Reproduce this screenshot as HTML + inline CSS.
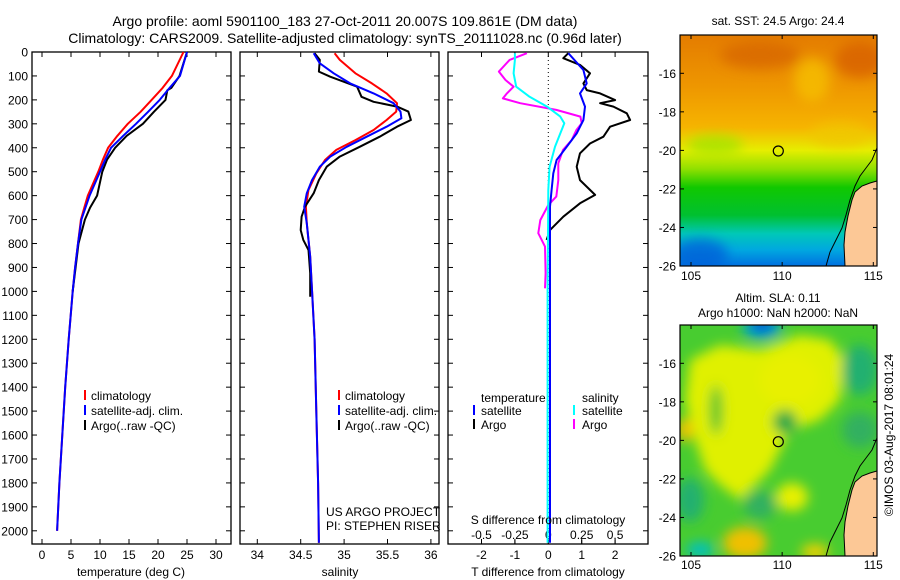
<!DOCTYPE html>
<html><head><meta charset="utf-8">
<style>
html,body{margin:0;padding:0;background:#fff;}
svg{display:block;font-family:"Liberation Sans",sans-serif;}
text{fill:#000;}
</style></head>
<body>
<svg id="fig" width="900" height="580" viewBox="0 0 900 580" xmlns="http://www.w3.org/2000/svg">
<defs>
<linearGradient id="sstgrad" x1="0" y1="0" x2="0" y2="1">
<stop offset="0" stop-color="#e47c00"/>
<stop offset="0.22" stop-color="#ee9600"/>
<stop offset="0.40" stop-color="#f6b400"/>
<stop offset="0.50" stop-color="#e6ee00"/>
<stop offset="0.58" stop-color="#90e000"/>
<stop offset="0.66" stop-color="#10c800"/>
<stop offset="0.78" stop-color="#00c030"/>
<stop offset="0.86" stop-color="#00c8b8"/>
<stop offset="0.93" stop-color="#00a8e0"/>
<stop offset="1" stop-color="#0070e0"/>
</linearGradient>
<clipPath id="clip1"><rect x="680" y="35" width="197" height="231"/></clipPath>
<clipPath id="clip2"><rect x="680" y="325" width="197" height="231"/></clipPath>
<filter id="blur6" x="-50%" y="-50%" width="200%" height="200%"><feGaussianBlur stdDeviation="6"/></filter>
</defs>

<text x="345" y="26" font-size="14" text-anchor="middle">Argo profile: aoml 5901100_183 27-Oct-2011 20.007S 109.861E (DM data)</text>
<text x="345" y="43" font-size="14" text-anchor="middle">Climatology: CARS2009. Satellite-adjusted climatology: synTS_20111028.nc (0.96d later)</text>

<g id="axes"></g>
<g id="series"></g>

<!-- legends -->
<g font-size="12">
<rect x="84" y="390" width="2" height="10" fill="#f00"/><text x="91" y="400">climatology</text>
<rect x="84" y="405" width="2" height="10" fill="#00f"/><text x="91" y="415">satellite-adj. clim.</text>
<rect x="84" y="420" width="2" height="10" fill="#000"/><text x="91" y="430">Argo(..raw -QC)</text>
</g>
<g font-size="12">
<rect x="338" y="390" width="2" height="10" fill="#f00"/><text x="345" y="400">climatology</text>
<rect x="338" y="405" width="2" height="10" fill="#00f"/><text x="345" y="415">satellite-adj. clim.</text>
<rect x="338" y="420" width="2" height="10" fill="#000"/><text x="345" y="430">Argo(..raw -QC)</text>
</g>
<g font-size="12">
<text x="481" y="402">temperature</text>
<rect x="473" y="405" width="2" height="10" fill="#00f"/><text x="481" y="415">satellite</text>
<rect x="473" y="419" width="2" height="10" fill="#000"/><text x="481" y="429">Argo</text>
<text x="582" y="402">salinity</text>
<rect x="573" y="405" width="2" height="10" fill="#0ff"/><text x="582" y="415">satellite</text>
<rect x="573" y="419" width="2" height="10" fill="#f0f"/><text x="582" y="429">Argo</text>
</g>
<text x="326" y="516" font-size="12">US ARGO PROJECT</text>
<text x="326" y="530" font-size="12">PI: STEPHEN RISER</text>
<text x="548" y="524" font-size="12" text-anchor="middle">S difference from climatology</text>

<text x="131" y="576" font-size="12" text-anchor="middle">temperature (deg C)</text>
<text x="340" y="576" font-size="12" text-anchor="middle">salinity</text>
<text x="548" y="576" font-size="12" text-anchor="middle">T difference from climatology</text>

<!-- map 1 -->
<text x="778" y="25" font-size="12" text-anchor="middle">sat. SST: 24.5 Argo: 24.4</text>
<g clip-path="url(#clip1)">
<rect x="680" y="35" width="197" height="231" fill="url(#sstgrad)"/>
<g filter="url(#blur6)" opacity="0.8">
<ellipse cx="760" cy="55" rx="40" ry="14" fill="#d86800"/>
<ellipse cx="860" cy="60" rx="25" ry="18" fill="#d86000"/>
<ellipse cx="812" cy="80" rx="18" ry="22" fill="#f6c000"/>
<ellipse cx="715" cy="145" rx="28" ry="10" fill="#a0e400"/>
<ellipse cx="840" cy="135" rx="30" ry="12" fill="#f0c800"/>
<ellipse cx="700" cy="255" rx="28" ry="16" fill="#0060d8"/>
</g>
<polygon id="land1" points="877,181 870,183 862,186 855,192 852,200 848,216 845,232 844,245 845,266 877,266" fill="#fcc896" stroke="#000" stroke-width="1"/>
<polyline points="877,148 872,160 866,168 860,176 855,186 850,200 846,215 842,228 836,240 830,252 826,266" fill="none" stroke="#000" stroke-width="1"/>
</g>
<rect x="680" y="35" width="197" height="231" fill="none" stroke="#000" stroke-width="1.2"/>
<circle cx="778.3" cy="151" r="5" fill="none" stroke="#000" stroke-width="1.2"/>

<!-- map 2 -->
<text x="778" y="302" font-size="12" text-anchor="middle">Altim. SLA: 0.11</text>
<text x="778" y="317" font-size="12" text-anchor="middle">Argo h1000: NaN h2000: NaN</text>
<g clip-path="url(#clip2)">
<rect x="680" y="325" width="197" height="231" fill="#48cc30"/>
<g filter="url(#blur6)">
<polygon points="690,360 720,345 760,350 800,335 830,340 845,360 840,400 820,420 790,430 770,470 740,500 720,485 705,470 695,440 685,400" fill="#e0f000"/>
<ellipse cx="790" cy="380" rx="30" ry="25" fill="#e8f000"/>
<ellipse cx="762" cy="328" rx="20" ry="12" fill="#00a8c8"/>
<ellipse cx="762" cy="325" rx="12" ry="7" fill="#0050d8"/>
<ellipse cx="785" cy="422" rx="12" ry="12" fill="#20a848"/>
<ellipse cx="716" cy="410" rx="6" ry="25" fill="#40c030"/>
<ellipse cx="690" cy="500" rx="14" ry="22" fill="#20b070"/>
<ellipse cx="860" cy="370" rx="18" ry="25" fill="#20b070"/>
<ellipse cx="860" cy="430" rx="18" ry="18" fill="#30b060"/>
<ellipse cx="760" cy="505" rx="16" ry="14" fill="#30b060"/>
<ellipse cx="792" cy="497" rx="16" ry="14" fill="#e8f000"/>
<ellipse cx="745" cy="543" rx="22" ry="16" fill="#f0c000"/>
<ellipse cx="685" cy="430" rx="8" ry="12" fill="#f0c000"/>
<ellipse cx="700" cy="550" rx="14" ry="8" fill="#00c0c0"/>
<ellipse cx="815" cy="552" rx="14" ry="8" fill="#f0d000"/>
</g>
<polygon points="877,471 870,473 862,476 855,482 852,490 848,506 845,522 844,535 845,556 877,556" fill="#fcc896" stroke="#000" stroke-width="1"/>
<polyline points="877,438 872,450 866,458 860,466 855,476 850,490 846,505 842,518 836,530 830,542 826,556" fill="none" stroke="#000" stroke-width="1"/>
</g>
<rect x="680" y="325" width="197" height="231" fill="none" stroke="#000" stroke-width="1.2"/>
<circle cx="778.3" cy="441.7" r="5" fill="none" stroke="#000" stroke-width="1.2"/>
<text x="893" y="435" font-size="12" text-anchor="middle" transform="rotate(-90 893 435)">©IMOS 03-Aug-2017 08:01:24</text>
<g id="mapaxes"></g>
</svg>

<script>
// ---------- data ----------
const depthTicks = [0,100,200,300,400,500,600,700,800,900,1000,1100,1200,1300,1400,1500,1600,1700,1800,1900,2000];
const tempTicks = [0,5,10,15,20,25,30];
const salTicks = [34,34.5,35,35.5,36];
const tdiffTicks = [-2,-1,0,1,2];
const sdiffTicks = [-0.5,-0.25,0,0.25,0.5];
const sdiffTickLabels = ["-0.5","-0.25","0","0.25","0.5"];
const lonTicks = [105,110,115];
const latTicks = [-16,-18,-20,-22,-24,-26];

const tempDepths = [0,100,150,200,250,300,350,400,450,500,600,650,700,800,900,1000,1200,1400,1600,1800,2000];
const tempClim = [24.4,22.4,20.8,18.9,17.0,14.8,13.0,11.4,10.5,9.7,7.9,7.3,6.7,6.2,5.7,5.3,4.6,4.0,3.5,3.0,2.6];
const tempSat = [25.0,23.8,22.0,20.3,18.3,16.2,14.0,11.9,10.9,10.0,8.2,7.5,6.8,6.2,5.7,5.3,4.6,4.0,3.5,3.0,2.6];
const argoTempDepths = [0,100,150,160,200,250,300,350,400,450,500,600,650,700,800,900,1000];
const tempArgo = [25.0,23.7,22.3,21.6,21.3,19.3,17.4,14.6,12.6,11.2,10.4,9.5,8.3,7.4,6.3,5.8,5.3];

const salClimDepths = [5,33,89,131,173,214,249,284,326,368,409,451,507,576,646,716,855,994,1200,1500,1800,2050];
const salClim = [34.89,34.95,35.13,35.32,35.49,35.61,35.60,35.49,35.34,35.13,34.91,34.78,34.68,34.59,34.56,34.57,34.61,34.63,34.66,34.68,34.70,34.71];
const salSatDepths = [5,47,89,131,173,214,249,277,312,354,396,437,479,535,590,646,716,855,994,1200,1500,1800,2050];
const salSat = [34.65,34.72,34.88,35.07,35.34,35.57,35.65,35.66,35.49,35.26,35.03,34.84,34.72,34.63,34.57,34.54,34.57,34.61,34.63,34.66,34.68,34.70,34.71];
const salArgoDepths = [5,33,82,103,145,187,208,228,249,284,312,354,396,437,479,535,590,646,688,744,785,827,924,994,1022];
const salArgo = [34.66,34.72,34.71,34.84,35.15,35.20,35.34,35.61,35.74,35.77,35.61,35.41,35.18,34.95,34.80,34.71,34.65,34.55,34.51,34.50,34.53,34.59,34.61,34.61,34.61];

const tdSatDepths = [5,75,131,173,228,284,340,396,451,507,576,646,1000,1500,2050];
const tdSat = [0.60,1.05,1.15,0.95,1.10,1.05,0.85,0.55,0.25,0.15,0.10,0.05,0.05,0.05,0.05];
const tdArgoDepths = [5,26,54,89,131,159,173,201,214,228,256,284,312,354,382,423,479,535,597,632,688,744,785];
const tdArgo = [0.60,0.45,0.95,1.25,1.05,1.15,1.55,2.0,1.55,1.95,2.35,2.45,1.85,1.65,1.25,0.95,0.85,0.95,1.4,0.95,0.45,0.05,-0.05];
const sdArgoDepths = [5,33,82,117,145,173,194,214,242,270,298,326,368,409,465,535,604,639,702,757,813,924,987];
const sdArgo = [-0.16,-0.29,-0.37,-0.32,-0.26,-0.31,-0.34,-0.21,0.06,0.24,0.25,0.21,0.175,0.11,0.075,0.075,0.06,0,-0.06,-0.075,-0.025,-0.02,-0.025];
const sdSatDepths = [5,33,89,145,187,228,270,298,340,396,479,576,1000,1500,2050];
const sdSat = [-0.25,-0.25,-0.26,-0.24,-0.14,-0.01,0.09,0.12,0.09,0.05,0.01,0,-0.005,-0.005,-0.005];

// ---------- scales ----------
const NS = "http://www.w3.org/2000/svg";
const yD = d => 52 + d*0.2394;
const xT = t => 42 + t*5.8;
const xS = s => 257.3 + (s-34)*86.8;
const xTd = v => 548.3 + v*33.4;
const xSd = v => 548.3 + v*133.6;
const lonX = lo => 691 + (lo-105)*18.23;
const latY = (la, top) => top + 38.3 + (-16 - la)*19.27;

function mk(tag, attrs, parent){
  const el = document.createElementNS(NS, tag);
  for (const k in attrs) el.setAttribute(k, attrs[k]);
  parent.appendChild(el);
  return el;
}
const axes = document.getElementById('axes');
const series = document.getElementById('series');

const panels = [
  {x0:32, x1:231, name:'temperature-panel'},
  {x0:240, x1:439, name:'salinity-panel'},
  {x0:448, x1:648, name:'difference-panel'}
];
panels.forEach(p=>{
  const r = mk('rect',{x:p.x0,y:52,width:p.x1-p.x0,height:492,fill:'none',stroke:'#000','stroke-width':1.3},axes);
  
  
  depthTicks.forEach(d=>{
    mk('line',{x1:p.x0,x2:p.x0+5,y1:yD(d),y2:yD(d),stroke:'#000'},axes);
    mk('line',{x1:p.x1,x2:p.x1-5,y1:yD(d),y2:yD(d),stroke:'#000'},axes);
  });
});
depthTicks.forEach(d=>{
  const t = mk('text',{x:28,y:yD(d)+4.5,'font-size':12,'text-anchor':'end'},axes);
  t.textContent = d;
  
  
});
function xticks(vals, labels, fx, ty, both){
  vals.forEach((v,i)=>{
    const x = fx(v);
    mk('line',{x1:x,x2:x,y1:544,y2:539,stroke:'#000'},axes);
    if (both) mk('line',{x1:x,x2:x,y1:52,y2:57,stroke:'#000'},axes);
    const t = mk('text',{x:x,y:ty,'font-size':12,'text-anchor':'middle'},axes);
    t.textContent = labels[i];
    
    
  });
}
xticks(tempTicks, tempTicks.map(String), xT, 559, true);
xticks(salTicks, salTicks.map(String), xS, 559, true);
xticks(tdiffTicks, tdiffTicks.map(String), xTd, 559, true);
sdiffTicks.forEach((v,i)=>{
  const x = xSd(v);
  mk('line',{x1:x,x2:x,y1:544,y2:540,stroke:'#000'},axes);
  const t = mk('text',{x:x,y:539,'font-size':12,'text-anchor':'middle'},axes);
  t.textContent = sdiffTickLabels[i];
  
  
});
// zero dotted line
const zl = mk('line',{x1:xTd(0),x2:xTd(0),y1:52,y2:544,stroke:'#000','stroke-dasharray':'1,3'},axes);



function line(depths, vals, fx, color, name, w){
  const pts = depths.map((d,i)=> fx(vals[i]).toFixed(1)+','+yD(d).toFixed(1)).join(' ');
  const el = mk('polyline',{points:pts,fill:'none',stroke:color,'stroke-width':w||2,'stroke-linejoin':'round'},series);
  
  
}
line(tempDepths, tempClim, xT, '#f00', 'temp-climatology-line');
line(argoTempDepths, tempArgo, xT, '#000', 'temp-argo-line');
line(tempDepths, tempSat, xT, '#00f', 'temp-satellite-line');
line(salClimDepths, salClim, xS, '#f00', 'sal-climatology-line');
line(salArgoDepths, salArgo, xS, '#000', 'sal-argo-line');
line(salSatDepths, salSat, xS, '#00f', 'sal-satellite-line');
line(tdArgoDepths, tdArgo, xTd, '#000', 'tdiff-argo-line');
line(sdArgoDepths, sdArgo, xSd, '#f0f', 'sdiff-argo-line');
line(tdSatDepths, tdSat, xTd, '#00f', 'tdiff-satellite-line');
line(sdSatDepths, sdSat, xSd, '#0ff', 'sdiff-satellite-line');

// map axes
const ma = document.getElementById('mapaxes');
[{top:35, lbl:280},{top:325, lbl:569}].forEach(m=>{
  lonTicks.forEach(lo=>{
    const x = lonX(lo);
    mk('line',{x1:x,x2:x,y1:m.top,y2:m.top+4,stroke:'#000'},ma);
    mk('line',{x1:x,x2:x,y1:m.top+231,y2:m.top+227,stroke:'#000'},ma);
    const t = mk('text',{x:x,y:m.lbl,'font-size':12,'text-anchor':'middle'},ma);
    t.textContent = lo;
    
    
  });
  latTicks.forEach(la=>{
    const y = latY(la, m.top);
    mk('line',{x1:877,x2:873,y1:y,y2:y,stroke:'#000'},ma);
    mk('line',{x1:680,x2:684,y1:y,y2:y,stroke:'#000'},ma);
    const t = mk('text',{x:676,y:y+4.5,'font-size':12,'text-anchor':'end'},ma);
    t.textContent = la;
    
    
  });
});
</script>
</body></html>
